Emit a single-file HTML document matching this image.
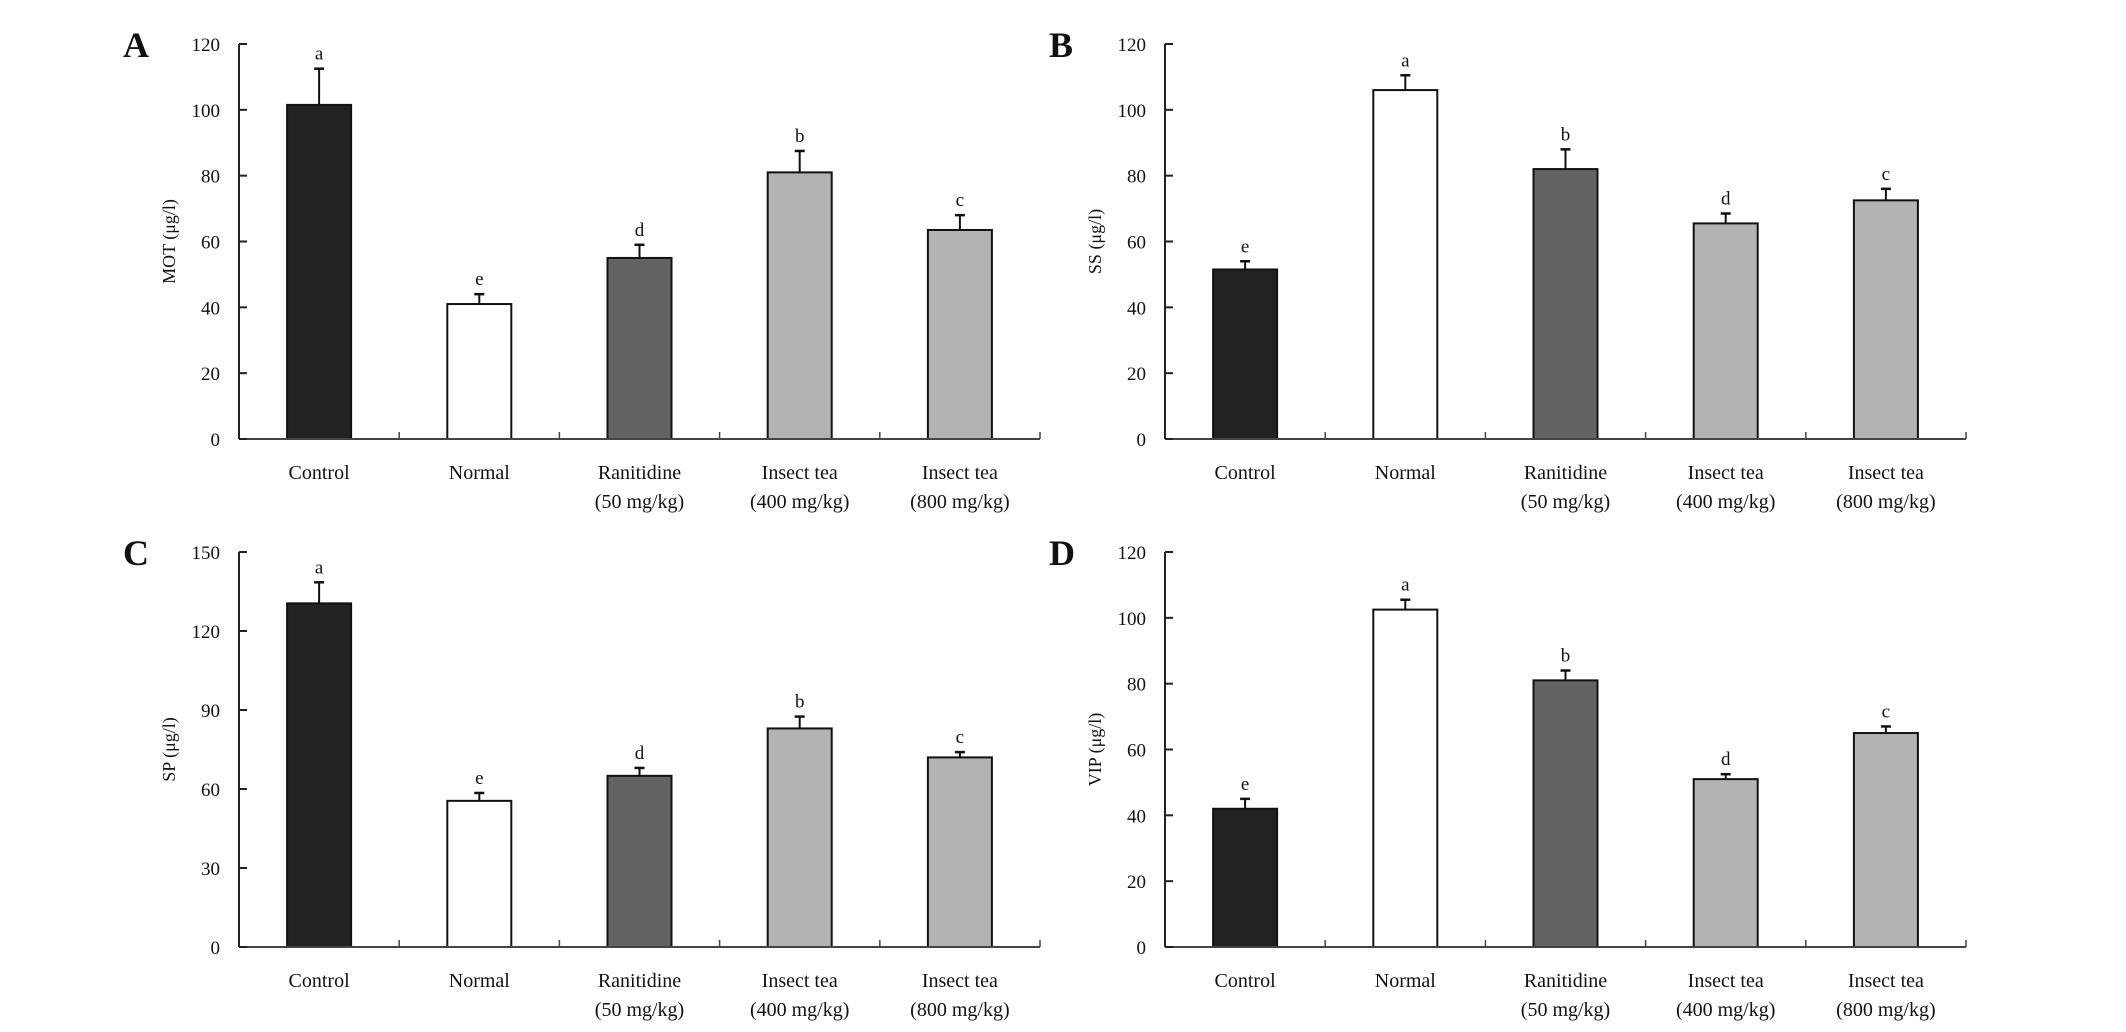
<!DOCTYPE html>
<html><head><meta charset="utf-8"><style>
html,body{margin:0;padding:0;background:#fff;width:2126px;height:1032px;overflow:hidden}
svg{display:block}
text{font-family:"Liberation Serif",serif;fill:#111}
</style></head><body>
<svg id="fig" width="2126" height="1032" viewBox="0 0 2126 1032"></svg>
<script>
const categories = ["Control","Normal","Ranitidine|(50 mg/kg)","Insect tea|(400 mg/kg)","Insect tea|(800 mg/kg)"];
const colors = ["#222222","#ffffff","#636363","#b3b3b3","#b3b3b3"];
const motValues = [101.5,41,55,81,63.5];
const motErrors = [11,3,4,6.5,4.5];
const motLetters = ["a","e","d","b","c"];
const ssValues = [51.5,106,82,65.5,72.5];
const ssErrors = [2.5,4.5,6,3,3.5];
const ssLetters = ["e","a","b","d","c"];
const spValues = [130.5,55.5,65,83,72];
const spErrors = [8,3,3,4.5,2];
const spLetters = ["a","e","d","b","c"];
const vipValues = [42,102.5,81,51,65];
const vipErrors = [3,3,3,1.5,2];
const vipLetters = ["e","a","b","d","c"];
const ticks120 = [0,20,40,60,80,100,120];
const ticks150 = [0,30,60,90,120,150];

const NS="http://www.w3.org/2000/svg";
const svg=document.getElementById('fig');
function mk(tag,attrs,parent){const e=document.createElementNS(NS,tag);for(const k in attrs)e.setAttribute(k,attrs[k]);(parent||svg).appendChild(e);return e;}

function panel(key,letter,yTitle,x0,yTop,yZero,ticks,values,errors,letters){
  const g=mk('g',{});
  
  
  const W=801, catW=W/5, barW=64, ymax=ticks[ticks.length-1];
  const yS=v=>yZero-(v/ymax)*(yZero-yTop);
  const xC=i=>x0+catW*(i+0.5);
  const lt=mk('text',{x:x0-116,y:yTop+13,'font-size':36,'font-weight':'bold'},g);
  lt.textContent=letter;
  
  
  const yt=mk('text',{x:0,y:0,'font-size':18,'text-anchor':'middle',transform:`translate(${x0-64},${(yTop+yZero)/2}) rotate(-90)`},g);
  yt.textContent=yTitle;
  
  
  // bars
  values.forEach((v,i)=>{
    const cx=xC(i), top=yS(v), et=yS(v+errors[i]);
    const eb=mk('line',{x1:cx,y1:top,x2:cx,y2:et,stroke:'#111','stroke-width':2},g);
    
    
    mk('line',{x1:cx-5,y1:et,x2:cx+5,y2:et,stroke:'#111','stroke-width':2.5},g);
    const r=mk('rect',{x:cx-barW/2,y:top,width:barW,height:yZero-top,fill:colors[i],stroke:'#111','stroke-width':2},g);
    
    
    const sl=mk('text',{x:cx,y:et-9,'font-size':19,'text-anchor':'middle'},g);
    sl.textContent=letters[i];
    
    
    const parts=categories[i].split('|');
    parts.forEach((p,j)=>{
      const t=mk('text',{x:cx,y:yZero+40+j*29,'font-size':20,'text-anchor':'middle'},g);
      t.textContent=p;
      
      
    });
  });
  // axes
  const ya=mk('line',{x1:x0,y1:yTop,x2:x0,y2:yZero,stroke:'#222','stroke-width':2},g);
  
  
  const xa=mk('line',{x1:x0,y1:yZero,x2:x0+W,y2:yZero,stroke:'#444','stroke-width':2},g);
  
  
  for(let i=1;i<=5;i++){
    mk('line',{x1:x0+catW*i,y1:yZero,x2:x0+catW*i,y2:yZero-7,stroke:'#444','stroke-width':1.5},g);
  }
  ticks.forEach(t=>{
    const y=yS(t);
    mk('line',{x1:x0,y1:y,x2:x0+8,y2:y,stroke:'#222','stroke-width':2},g);
    const tl=mk('text',{x:x0-19,y:y+7,'font-size':19,'text-anchor':'end'},g);
    tl.textContent=t;
    
    
  });
}
panel('a','A','MOT (μg/l)',239,44,439,ticks120,motValues,motErrors,motLetters);
panel('b','B','SS (μg/l)',1165,44,439,ticks120,ssValues,ssErrors,ssLetters);
panel('c','C','SP (μg/l)',239,552,947,ticks150,spValues,spErrors,spLetters);
panel('d','D','VIP (μg/l)',1165,552,947,ticks120,vipValues,vipErrors,vipLetters);
</script>
</body></html>
